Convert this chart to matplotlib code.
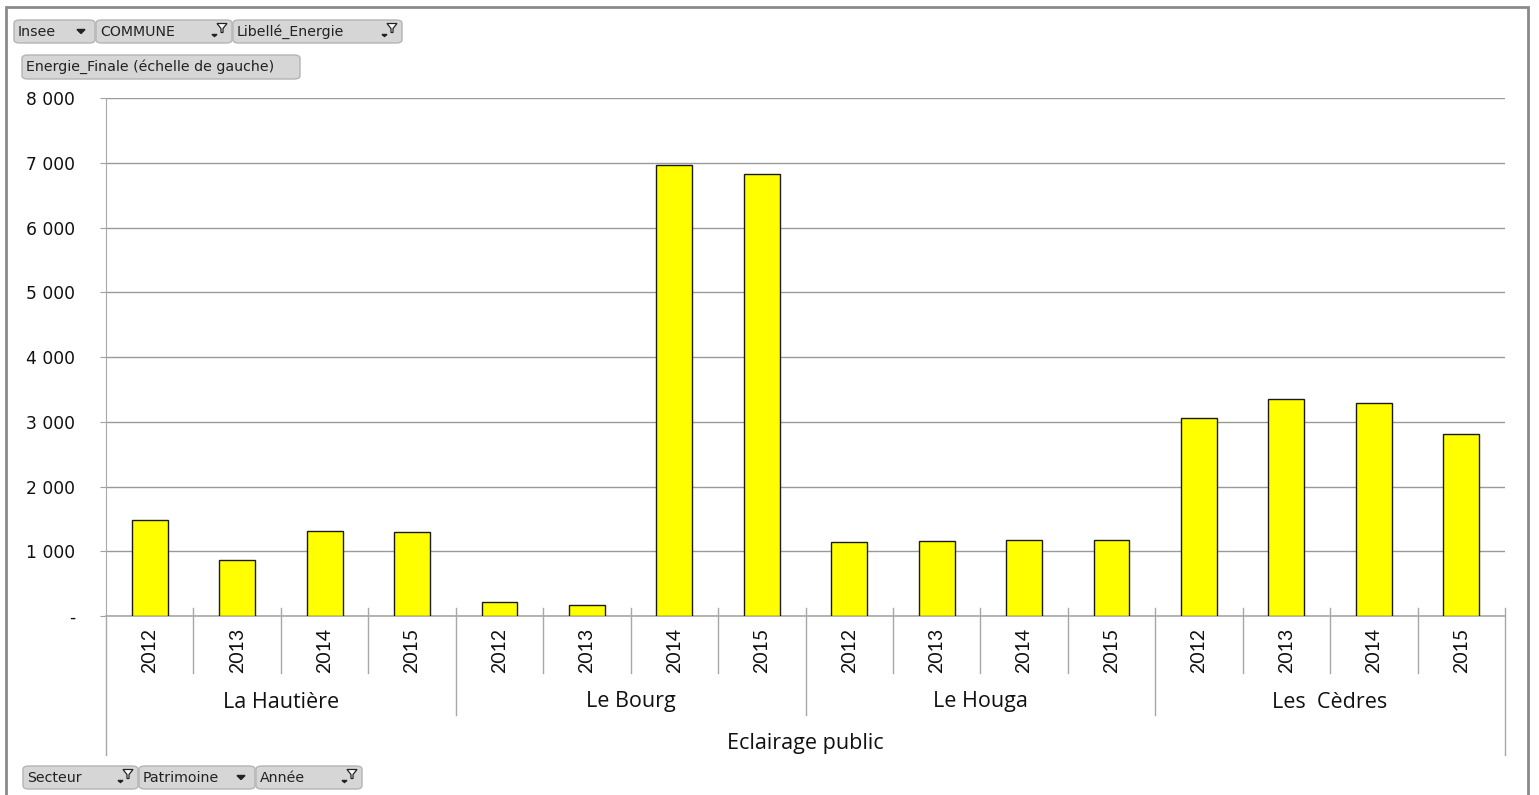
import numpy as np
import matplotlib.pyplot as plt
from matplotlib.patches import FancyBboxPatch, Rectangle, Polygon

# Consommation d'énergie finale - éclairage public par commune
communes = ['La Hautière', 'Le Bourg', 'Le Houga', 'Les  Cèdres']
annees = ['2012', '2013', '2014', '2015']
la_hautiere = [1480, 865, 1313, 1297]
le_bourg = [216, 165, 6960, 6826]
le_houga = [1143, 1158, 1174, 1174]
les_cedres = [3053, 3357, 3294, 2806]
secteur = 'Eclairage public'
yticks = [0, 1000, 2000, 3000, 4000, 5000, 6000, 7000, 8000]

valeurs = la_hautiere + le_bourg + le_houga + les_cedres
W, H = 1539, 795
fig = plt.figure(figsize=(W / 100, H / 100), dpi=100)
fig.patch.set_facecolor('white')


def px(x, y):
    return x / W, 1 - y / H


# cadre du graphique
fig.add_artist(Rectangle(px(6, 800), (1528 - 6) / W, (800 - 7) / H, transform=fig.transFigure,
                         fill=False, edgecolor='#8a8a8a', linewidth=2.0))

x0, x1, ytop, ybot = 106, 1505, 98, 616
ax = fig.add_axes([x0 / W, 1 - ybot / H, (x1 - x0) / W, (ybot - ytop) / H])
n = len(valeurs)
x = np.arange(n)
ax.bar(x, valeurs, width=0.41, color='#ffff00', edgecolor='#1a1a1a', linewidth=1.0, zorder=3)
ax.set_xlim(-0.5, n - 0.5)
ax.set_ylim(0, 8000)
ax.set_yticks(yticks)
ax.set_yticklabels(['-' if v == 0 else f'{v:,}'.replace(',', ' ') for v in yticks],
                   fontsize=12.3, family='DejaVu Sans', color='#111111')
ax.tick_params(axis='y', length=4.3, color='#a0a0a0', pad=18)
ax.tick_params(axis='x', bottom=False, labelbottom=False)
ax.grid(axis='y', color='#9a9a9a', linewidth=1.0, zorder=0)
for s in ['top', 'right']:
    ax.spines[s].set_visible(False)
ax.spines['left'].set_color('#a8a8a8')
ax.spines['bottom'].set_color('#a8a8a8')
ax.spines['bottom'].set_linewidth(1.2)

# axe des catégories à plusieurs niveaux
tr = ax.get_xaxis_transform()
hpx = ybot - ytop


def fy(y):
    return (ybot - y) / hpx


lc = '#a8a8a8'
for i in range(1, n):
    bas = 715 if i % 4 == 0 else 673
    ax.plot([i - 0.5, i - 0.5], [fy(608), fy(bas)], transform=tr, color=lc, lw=1.0, clip_on=False)
for xe in [-0.5, n - 0.5]:
    ax.plot([xe, xe], [fy(608) if xe > 0 else 0, fy(755)], transform=tr, color=lc, lw=1.0, clip_on=False)

for i in range(n):
    ax.text(i, fy(650), annees[i % 4], transform=tr, rotation=90, ha='center', va='center',
            fontsize=14, family='Lato', color='#111111')
for g, nom in enumerate(communes):
    ax.text(g * 4 + 1.5, fy(702), nom, transform=tr, ha='center', va='center',
            fontsize=15.5, family='Open Sans', color='#111111')
ax.text((n - 1) / 2, fy(743), secteur, transform=tr, ha='center', va='center',
        fontsize=15.5, family='Open Sans', color='#111111')


# boutons de champs du tableau croisé
def bouton(xa, xb, ya, yb, texte, icone=None):
    x_, y_ = px(xa, yb)
    w, h = (xb - xa) / W, (yb - ya) / H
    fig.add_artist(FancyBboxPatch((x_, y_), w, h, boxstyle='round,pad=0,rounding_size=0.004',
                                  transform=fig.transFigure, facecolor='#d6d6d6',
                                  edgecolor='#b4b4b4', linewidth=1.0))
    fig.text((xa + 4) / W, 1 - (ya + yb) / 2 / H, texte, fontsize=10.2, family='DejaVu Sans',
             color='#222222', va='center', ha='left')
    cy = (ya + yb) / 2
    if icone == 'fleche':
        fig.add_artist(Polygon([px(xb - 18, cy - 2), px(xb - 10, cy - 2), px(xb - 14, cy + 2)],
                               closed=True, transform=fig.transFigure, color='#222222'))
    elif icone == 'filtre':
        fig.add_artist(Polygon([px(xb - 20, cy + 3), px(xb - 15, cy + 3), px(xb - 17.5, cy + 5)],
                               closed=True, transform=fig.transFigure, color='#222222'))
        fig.add_artist(Polygon([px(xb - 15, cy - 8), px(xb - 5, cy - 8), px(xb - 9, cy - 3),
                                px(xb - 9, cy + 1), px(xb - 11, cy + 1), px(xb - 11, cy - 3)],
                               closed=True, transform=fig.transFigure, facecolor='white',
                               edgecolor='#222222', linewidth=0.9))


bouton(14, 95, 20, 43, 'Insee', 'fleche')
bouton(96, 232, 20, 43, 'COMMUNE', 'filtre')
bouton(233, 402, 20, 43, 'Libellé_Energie', 'filtre')
bouton(22, 300, 55, 79, 'Energie_Finale (échelle de gauche)')
bouton(23, 138, 766, 789, 'Secteur', 'filtre')
bouton(139, 255, 766, 789, 'Patrimoine', 'fleche')
bouton(256, 362, 766, 789, 'Année', 'filtre')

fig.savefig('out.png', dpi=100)
